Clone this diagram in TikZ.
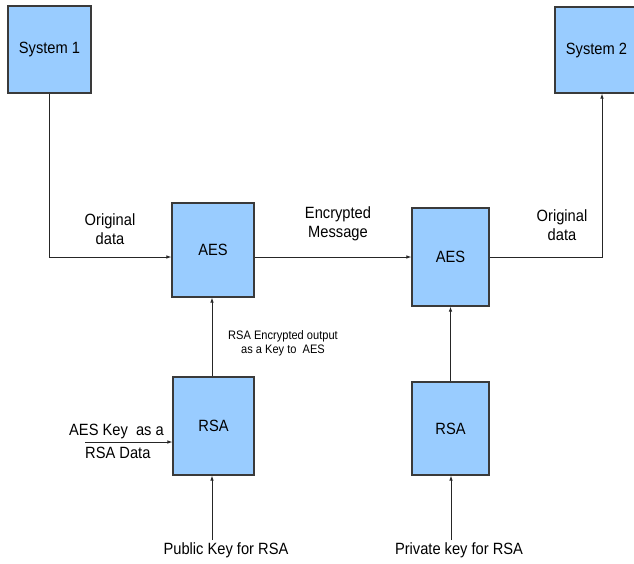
\documentclass[tikz,border=0pt]{standalone}
\usepackage{fontspec}
\setmainfont{Liberation Sans}[FakeStretch=0.9]
\usetikzlibrary{arrows.meta,calc}
\definecolor{boxfill}{HTML}{99CCFF}
\definecolor{boxline}{HTML}{3A3A3A}
\tikzset{
  blk/.style={draw=boxline,line width=1.1pt,fill=boxfill,inner sep=0pt,font=\fontsize{16.3}{18}\selectfont},
  arr/.style={draw=black!85,line width=0.8pt,-{Latex[length=5pt,width=3.5pt]}},
  lbl/.style={align=center,inner sep=0pt,font=\fontsize{16.3}{19.5}\selectfont},
  small/.style={align=center,inner sep=0pt,font=\fontsize{12.3}{14}\selectfont}
}
\begin{document}
\begin{tikzpicture}[x=1pt,y=-1pt]
\useasboundingbox (0,0) rectangle (634,563);
\node[blk,minimum width=83pt,minimum height=87pt] (sys1) at (49.5,49.5) {System 1};
\node[blk,minimum width=83pt,minimum height=86pt] (sys2) at (596.5,50) {System 2};
\node[blk,minimum width=82pt,minimum height=94pt] (aes1) at (213,250) {AES};
\node[blk,minimum width=77pt,minimum height=98pt] (aes2) at (450.5,257) {AES};
\node[blk,minimum width=81pt,minimum height=98pt] (rsa1) at (213.5,426) {RSA};
\node[blk,minimum width=77pt,minimum height=93pt] (rsa2) at (450.5,428.5) {RSA};
\coordinate (aeskey) at (85,442);
\coordinate (pubk) at (212,540);
\coordinate (privk) at (451,540);
\draw[arr] (sys1.south) |- (aes1.west |- 0,257);
\draw[arr] (aes1.east |- 0,257) -- (aes2.west);
\draw[arr] (aes2.east) -| (sys2.south -| 602,0);
\draw[arr] (rsa1.north -| 212,0) -- (aes1.south -| 212,0);
\draw[arr] (rsa2.north) -- (aes2.south);
\draw[arr] (aeskey) -- (rsa1.west |- aeskey);
\draw[arr] (pubk) -- (rsa1.south -| pubk);
\draw[arr] (privk) -- (rsa2.south -| privk);
\node[lbl] (l1) at (110,229) {Original\\data};
\node[lbl] (l2) at (338,224) {Encrypted\\Message};
\node[lbl] (l3) at (562,225) {Original\\data};
\node[small] (l4) at (283,343) {RSA Encrypted output\\as a Key to\ \ AES};
\node[lbl,anchor=east] (l5) at (164,431) {AES Key\ \ as a};
\node[lbl,anchor=west] (l6) at (85,453) {RSA Data};
\node[lbl] (l7) at (226,550) {Public Key for RSA};
\node[lbl] (l8) at (459,550) {Private key for RSA};
\end{tikzpicture}
\end{document}
